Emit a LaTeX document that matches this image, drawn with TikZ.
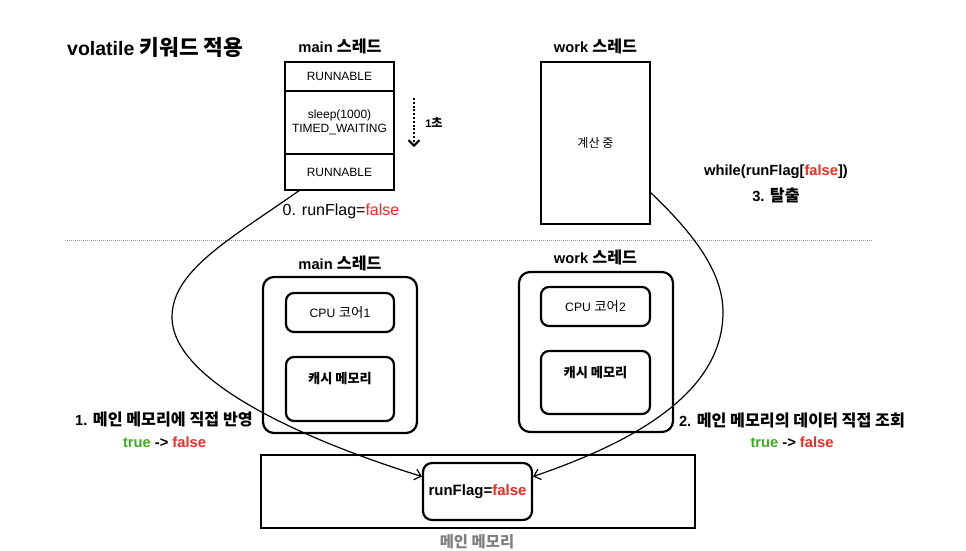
\documentclass[tikz,border=0pt]{standalone}
\usepackage{fontspec}
\setmainfont{Liberation Sans}
\newfontfamily\kr{Noto Sans CJK KR}[Scale=1.1]
\usetikzlibrary{arrows.meta,calc}
\definecolor{fred}{HTML}{EE2B24}
\definecolor{fgreen}{HTML}{3DAA1F}
\definecolor{fgray}{HTML}{7F7F7F}
\begin{document}
\begin{tikzpicture}[x=1pt,y=-1pt,
  sq/.style={draw,line width=2.6pt,inner sep=0pt,outer sep=0pt,align=center,minimum width=109pt},
  rbox/.style={draw,line width=2.2pt,rounded corners=8pt,inner sep=0pt},
  obox/.style={draw,line width=2.2pt,rounded corners=11pt,inner sep=0pt,minimum width=154pt},
  lbl/.style={inner sep=0pt,align=center},
  bigb/.style={lbl,font=\fontsize{14.7}{17}\selectfont\bfseries},
  conn/.style={line width=1.2pt,-{Straight Barb[length=6pt,width=11pt,line width=1.2pt]}}
]
\useasboundingbox (0,0) rectangle (966,550);

% title
\node[lbl,anchor=west,font=\fontsize{19.5}{22}\selectfont\bfseries] (title) at (67,47) {volatile {\kr 키워드 적용}};

% top main thread
\node[bigb] (tmain) at (340,46) {main {\kr 스레드}};
\node[sq,minimum height=29pt,font=\fontsize{12}{14}\selectfont] (mt1) at (339.5,76.5) {RUNNABLE};
\node[sq,minimum height=63pt,font=\fontsize{12}{14}\selectfont,anchor=north] (mt2) at (mt1.south) {sleep(1000)\\TIMED\_WAITING};
\node[sq,minimum height=36pt,font=\fontsize{12}{14}\selectfont,anchor=north] (mt3) at (mt2.south) {RUNNABLE};

\coordinate (da) at (414,98);
\coordinate (db) at (414,147);
\draw[line width=2.4pt,dash pattern=on 2pt off 1.8pt,-{Straight Barb[length=5.5pt,width=11pt,line width=2pt]}] (da) -- (db);
\node[lbl,font=\fontsize{11}{13}\selectfont\bfseries] (sec) at (434,122) {1{\kr 초}};

\node[lbl,font=\fontsize{16}{19}\selectfont] (zero) at (341,211) {0. runFlag=\textcolor{fred}{false}};

% top work thread
\node[bigb] (twork) at (595.5,46) {work {\kr 스레드}};
\node[sq,minimum height=162pt] (wt) at (595.5,143) {};
\node[lbl,font=\fontsize{11}{13}\selectfont\kr] (calc) at (595.5,143) {계산 중};

\node[bigb] (wh) at (776,172) {while(runFlag[\textcolor{fred}{false}])};
\node[bigb] (esc) at (776,195) {3. {\kr 탈출}};

% separator
\coordinate (s1) at (65,240);
\coordinate (s2) at (873,240);
\draw[fgray!80,line width=0.9pt,dash pattern=on 1pt off 1pt] (s1) -- (s2);

% bottom main thread
\node[bigb] (bmain) at (340,263) {main {\kr 스레드}};
\node[obox,minimum height=156pt] (mo) at (340,355) {};
\node[rbox,minimum width=108pt,minimum height=39pt,font=\fontsize{12.2}{15}\selectfont] (cpu1) at (340,312.5) {CPU {\kr 코어}1};
\node[rbox,minimum width=108pt,minimum height=64pt] (cache1) at (340,389) {};
\node[lbl,font=\fontsize{12}{14}\selectfont\kr\bfseries] (cache1t) at (340,379) {캐시 메모리};

% bottom work thread
\node[bigb] (bwork) at (595.5,257) {work {\kr 스레드}};
\node[obox,minimum height=160pt] (wo) at (596,352) {};
\node[rbox,minimum width=109pt,minimum height=39pt,font=\fontsize{12.2}{15}\selectfont] (cpu2) at (595.5,306.5) {CPU {\kr 코어}2};
\node[rbox,minimum width=109pt,minimum height=63pt] (cache2) at (595.5,382.5) {};
\node[lbl,font=\fontsize{12}{14}\selectfont\kr\bfseries] (cache2t) at (595.5,373) {캐시 메모리};

% labels
\node[bigb] (l1) at (164,419) {1. {\kr 메인 메모리에 직접 반영}};
\node[bigb] (l1b) at (164.5,442) {\textcolor{fgreen}{true} -> \textcolor{fred}{false}};
\node[bigb] (l2) at (792,420) {2. {\kr 메인 메모리의 데이터 직접 조회}};
\node[bigb] (l2b) at (792,442) {\textcolor{fgreen}{true} -> \textcolor{fred}{false}};

% main memory
\node[draw,line width=2.6pt,minimum width=434pt,minimum height=73pt,inner sep=0pt] (mem) at (478,491.5) {};
\node[draw,line width=2.2pt,rounded corners=9pt,minimum width=109pt,minimum height=57pt,inner sep=0pt,font=\fontsize{15}{18}\selectfont\bfseries] (rf) at (477.5,491.5) {runFlag=\textcolor{fred}{false}};
\node[lbl,text=fgray,font=\fontsize{14}{17}\selectfont\bfseries\kr] (memt) at (477,542) {메인 메모리};

% curves
\draw[conn] ([xshift=15pt]mt3.south west) .. controls (232,238) and (172,270) .. (172,317)
  .. controls (172,385) and (320,445) .. ([yshift=15pt]rf.west);
\draw[conn] ([yshift=32pt]wt.south east) .. controls (690,230) and (723,270) .. (723,312)
  .. controls (723,390) and (640,440) .. ([yshift=15pt]rf.east);
\end{tikzpicture}
\end{document}
